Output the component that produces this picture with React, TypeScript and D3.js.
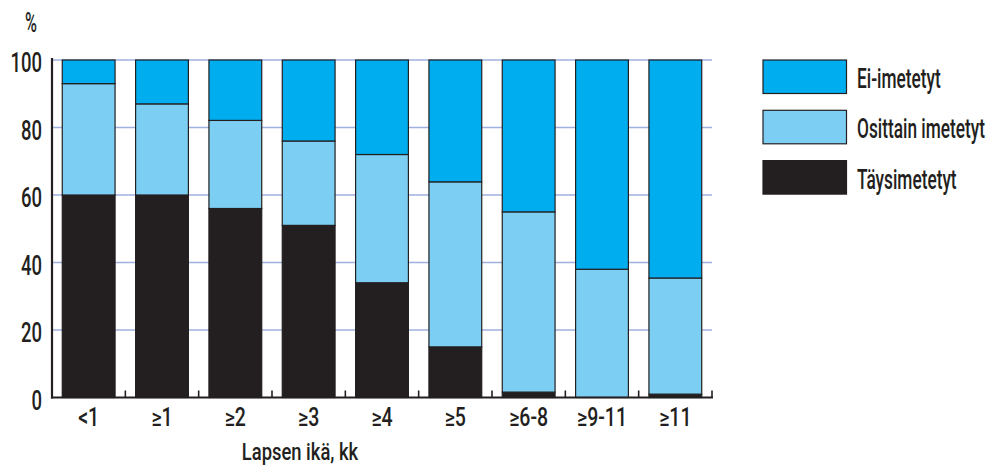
import React from "react";
import * as d3 from "d3";

const categories = ["<1", "≥1", "≥2", "≥3", "≥4", "≥5", "≥6-8", "≥9-11", "≥11"];
const fullyBreastfed = [60, 60, 56, 51, 34, 15, 1.6, 0, 1.0];
const partlyBreastfed = [33, 27, 26.1, 25, 38, 48.9, 53.4, 38, 34.4];
const notBreastfed = categories.map((_, i) => 100 - fullyBreastfed[i] - partlyBreastfed[i]);
const yTicks = [0, 20, 40, 60, 80, 100];

const seriesKeys = ["full", "partial", "none"];
const seriesLabels = ["Täysimetetyt", "Osittain imetetyt", "Ei-imetetyt"];
const seriesColors = ["#231f20", "#7ccff3", "#00adee"];

const FONT = "Roboto, 'DejaVu Sans', sans-serif";
const INK = "#231f20";

// Horizontally condensed text
function CText({ x, y, sx, size, anchor = "start", children }: any) {
  return (
    <text
      transform={`translate(${x},${y}) scale(${sx},1)`}
      textAnchor={anchor}
      fontSize={size}
      fontWeight={500}
      fill={INK}
    >
      {children}
    </text>
  );
}

export default function App() {
  const width = 993;
  const height = 467;
  const left = 52;
  const right = 712;
  const top = 60;
  const bottom = 397.5;

  const x = d3.scaleBand<string>().domain(categories).range([left, right]).paddingInner(0.28).paddingOuter(0.14);
  const y = d3.scaleLinear().domain([0, 100]).range([bottom, top]);

  const rows = categories.map((c, i) => ({
    cat: c,
    full: fullyBreastfed[i],
    partial: partlyBreastfed[i],
    none: notBreastfed[i],
  }));
  const stacked = d3.stack<any>().keys(seriesKeys)(rows);

  const step = x.step();
  const boundaries = categories.map((_, i) => left + step * (i + 1));

  return (
    <svg width={width} height={height} style={{ position: "absolute", left: 0, top: 0 }} fontFamily={FONT}>
      <rect width={width} height={height} fill="#fff" />
      {yTicks.filter((t) => t > 0).map((t) => (
        <line key={t} x1={left} x2={right} y1={y(t)} y2={y(t)} stroke="#9fb1e0" strokeWidth={1.5} />
      ))}
      {stacked.map((s, si) => (
        <g key={s.key}>
          {s.map((d, i) => {
            const h = y(d[0]) - y(d[1]);
            if (h <= 0) return null;
            return (
              <rect
                key={i}
                x={x(categories[i])}
                y={y(d[1])}
                width={x.bandwidth()}
                height={h}
                fill={seriesColors[si]}
                stroke={INK}
                strokeWidth={1.2}
              />
            );
          })}
        </g>
      ))}
      {/* axes */}
      <line x1={left} x2={left} y1={top - 2} y2={bottom + 1} stroke={INK} strokeWidth={2.2} />
      <line x1={left - 1} x2={right + 1} y1={bottom} y2={bottom} stroke={INK} strokeWidth={2} />
      {boundaries.map((b, i) => (
        <line key={i} x1={b} x2={b} y1={bottom} y2={bottom - 7} stroke={INK} strokeWidth={1.6} />
      ))}
      {yTicks.map((t) => (
        <CText key={t} x={42} y={y(t) + 12} sx={0.66} size={28} anchor="end">
          {t}
        </CText>
      ))}
      {categories.map((c) => (
        <CText key={c} x={(x(c) as number) + x.bandwidth() / 2} y={426} sx={0.78} size={25} anchor="middle">
          {c}
        </CText>
      ))}
      <CText x={31} y={32} sx={0.6} size={27} anchor="middle">%</CText>
      <CText x={300} y={460} sx={0.8} size={23} anchor="middle">Lapsen ikä, kk</CText>
      {/* legend */}
      {[2, 1, 0].map((si, k) => (
        <g key={si} transform={`translate(763, ${60 + k * 50.3})`}>
          <rect x={0} y={0} width={83.5} height={33.5} fill={seriesColors[si]} stroke={INK} strokeWidth={1.2} />
          <CText x={94} y={28} sx={0.64} size={27}>{seriesLabels[si]}</CText>
        </g>
      ))}
    </svg>
  );
}
